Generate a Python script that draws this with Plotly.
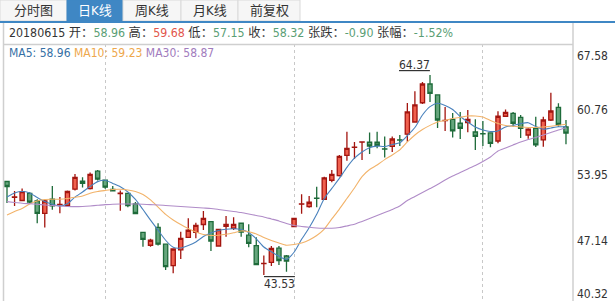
import plotly.graph_objects as go

# ---------------- data ----------------
opens = [53.27, 51.62, 51.29, 52.04, 51.24, 49.96, 51.42, 50.86, 50.77, 52.47,
         53.30, 52.54, 54.35, 53.40, 52.46, 52.02, 52.04, 50.93, 47.98, 46.63,
         48.50, 46.74, 44.50, 46.14, 47.46, 47.98, 48.79, 49.10, 46.55, 48.60,
         48.40, 48.92, 47.68, 46.60, 44.71, 44.85, 46.32, 45.51, 48.56, 50.91,
         50.65, 51.54, 51.42, 53.40, 53.88, 56.00, 56.82, 57.37, 57.36, 57.36,
         56.68, 56.94, 57.62, 58.20, 59.47, 61.48, 63.43, 62.29, 59.61, 59.75,
         59.34, 59.40, 58.43, 58.27, 58.33, 57.49, 60.07, 60.38, 59.96, 58.12,
         58.82, 57.60, 59.68, 61.00, 58.96]
highs = [53.30, 52.28, 52.54, 52.15, 51.42, 51.35, 52.80, 51.66, 52.34, 54.05,
         53.71, 54.21, 54.47, 53.43, 52.80, 52.34, 52.07, 51.14, 48.01, 47.31,
         48.92, 46.76, 46.28, 48.04, 49.44, 48.98, 50.20, 49.16, 48.32, 49.68,
         49.54, 48.95, 48.81, 47.46, 45.56, 46.55, 46.55, 45.62, 49.47, 51.94,
         51.76, 52.73, 53.77, 54.47, 56.03, 58.46, 57.39, 57.42, 58.38, 58.46,
         57.96, 57.96, 58.12, 61.45, 62.68, 63.64, 64.37, 62.34, 61.04, 60.41,
         60.52, 60.72, 59.75, 59.58, 58.38, 60.59, 60.78, 60.52, 60.20, 58.82,
         60.03, 60.03, 62.53, 61.42, 59.68]
lows = [51.03, 50.72, 51.24, 51.00, 48.92, 48.48, 50.32, 49.96, 50.62, 52.34,
        52.65, 52.44, 53.38, 52.52, 52.23, 50.23, 50.58, 49.89, 46.48, 46.48,
        46.60, 44.06, 43.71, 45.20, 47.44, 47.35, 48.22, 46.03, 46.50, 47.52,
        48.22, 47.52, 46.42, 44.57, 43.53, 44.47, 44.57, 43.87, 48.50, 49.92,
        50.54, 50.58, 51.35, 53.19, 53.80, 55.44, 55.62, 55.51, 56.14, 56.73,
        55.77, 56.35, 56.97, 57.42, 59.42, 61.35, 61.56, 58.85, 58.54, 57.86,
        57.70, 58.41, 56.56, 56.97, 56.84, 57.25, 60.05, 58.98, 57.81, 57.72,
        56.87, 56.90, 59.58, 58.98, 57.15]
closes = [52.75, 51.66, 52.21, 51.12, 49.96, 51.24, 50.74, 50.88, 52.23, 53.71,
          53.09, 54.02, 53.51, 52.68, 52.31, 52.05, 50.77, 49.94, 47.25, 47.15,
          46.74, 44.40, 46.24, 47.35, 48.19, 48.71, 49.44, 47.07, 48.27, 48.79,
          48.81, 48.01, 46.83, 44.62, 44.74, 46.29, 45.04, 44.99, 49.44, 50.94,
          51.11, 51.51, 53.64, 54.02, 55.90, 56.73, 56.85, 57.40, 56.97, 57.05,
          56.65, 57.70, 57.59, 60.52, 61.25, 63.43, 62.46, 59.68, 59.64, 58.54,
          58.82, 59.75, 57.98, 58.24, 57.25, 60.07, 60.48, 59.34, 58.82, 58.72,
          57.08, 59.68, 60.62, 59.21, 58.32]

ma5 = [51.66, 52.08, 52.23, 52.08, 51.61, 51.19, 50.90, 50.72, 50.95, 51.65,
       52.18, 52.76, 53.26, 53.40, 53.07, 52.73, 52.18, 51.40, 50.35, 49.25,
       48.20, 47.15, 46.42, 46.34, 46.60, 46.97, 47.54, 47.91, 48.17, 48.30,
       48.35, 48.27, 47.96, 47.30, 46.45, 45.95, 45.48, 45.15, 45.90, 47.25,
       48.45, 49.85, 51.50, 52.55, 53.60, 54.75, 55.70, 56.35, 56.80, 56.96,
       56.92, 57.13, 57.30, 58.05, 58.90, 60.20, 61.07, 61.42, 61.19, 60.78,
       60.05, 59.47, 58.95, 58.64, 58.48, 58.54, 58.95, 59.11, 59.30, 59.40,
       59.00, 58.72, 58.85, 58.98, 58.96]
ma10 = [49.78, 50.15, 50.46, 50.93, 51.24, 51.40, 51.42, 51.42, 51.50, 51.63,
        51.76, 52.04, 52.23, 52.34, 52.44, 52.46, 52.39, 52.23, 51.92, 51.35,
        50.60, 49.84, 49.26, 48.79, 48.38, 48.01, 47.75, 47.65, 47.67, 47.77,
        47.93, 48.12, 48.04, 47.80, 47.44, 47.13, 46.87, 46.63, 46.71, 46.87,
        47.18, 47.65, 48.32, 49.37, 50.40, 51.50, 52.60, 53.78, 54.52, 54.99,
        55.55, 56.04, 56.56, 57.39, 58.12, 58.69, 59.12, 59.47, 59.63, 59.84,
        59.96, 60.10, 60.10, 60.00, 59.63, 59.32, 59.11, 59.03, 58.95, 58.90,
        58.90, 58.95, 59.03, 59.13, 59.23]
ma30 = [51.17, 51.09, 51.00, 50.95, 50.90, 50.83, 50.77, 50.72, 50.67, 50.65,
        50.67, 50.72, 50.79, 50.86, 50.90, 50.93, 50.93, 50.93, 50.90, 50.86,
        50.83, 50.77, 50.72, 50.67, 50.62, 50.56, 50.51, 50.46, 50.36, 50.25,
        50.15, 50.04, 49.89, 49.73, 49.58, 49.37, 49.16, 48.90, 48.69, 48.59,
        48.50, 48.43, 48.40, 48.40, 48.48, 48.64, 48.81, 49.11, 49.42, 49.73,
        50.04, 50.36, 50.72, 51.29, 51.71, 52.13, 52.54, 52.96, 53.43, 53.85,
        54.21, 54.58, 54.94, 55.36, 55.83, 56.45, 56.76, 57.08, 57.39, 57.65,
        57.86, 58.12, 58.38, 58.64, 58.87]

month_start_idx = [13, 38, 63]
price_ticks = [67.58, 60.76, 53.95, 47.14, 40.32]
y_top, y_bottom = 67.60, 40.82

tabs = ["分时图", "日K线", "周K线", "月K线", "前复权"]
active_tab = 1

info_date = "20180615"
info_open, info_high, info_low, info_close = "58.96", "59.68", "57.15", "58.32"
info_chg, info_pct = "-0.90", "-1.52%"

high_idx = highs.index(max(highs))
low_idx = lows.index(min(lows))

# ---------------- style ----------------
FONT = "DejaVu Sans Condensed, Noto Sans, Noto Sans CJK SC, sans-serif"
TXT = "#333333"
GREEN_TXT = "#5a9e74"
RED_TXT = "#e2554a"
TAB_BLUE = "#3f87c4"
BORDER = "#cfcfcf"
UP_FILL, UP_LINE = "#f0604e", "#a3150f"
DN_FILL, DN_LINE = "#66a67d", "#1e6b3a"
MA_COLORS = ["#4a82bd", "#f2b36a", "#b08cc8"]
MA_TXT = ["#3670a5", "#eea74c", "#a17bbd"]

W, H = 615, 301
ML, MR, MT, MB = 3, 42, 44, 0
PW, PH = W - ML - MR, H - MT - MB


def pxx(x):
    return (x - ML) / PW


def pyy(y):
    return (H - MB - y) / PH


idx = list(range(len(opens)))

fig = go.Figure()
fig.add_trace(go.Candlestick(
    x=idx, open=opens, high=highs, low=lows, close=closes,
    increasing=dict(fillcolor=UP_FILL, line=dict(color=UP_LINE, width=1.3)),
    decreasing=dict(fillcolor=DN_FILL, line=dict(color=DN_LINE, width=1.3)),
    whiskerwidth=0, hoverinfo="skip", showlegend=False))

for vals, col in zip([ma5, ma10, ma30], MA_COLORS):
    fig.add_trace(go.Scatter(
        x=idx, y=vals, mode="lines", hoverinfo="skip", showlegend=False,
        line=dict(color=col, width=1.1, shape="spline", smoothing=0.6)))

shapes = []
# tabs
tab_edges = [0, 67, 123, 181, 238, 300]
annotations = []
for i, name in enumerate(tabs):
    x0, x1 = tab_edges[i], tab_edges[i + 1]
    active = (i == active_tab)
    shapes.append(dict(type="rect", xref="paper", yref="paper",
                       x0=pxx(x0), x1=pxx(x1), y0=pyy(21), y1=pyy(0),
                       fillcolor=TAB_BLUE if active else "#f6f6f6",
                       line=dict(color=TAB_BLUE if active else "#dadada", width=1),
                       layer="above"))
    annotations.append(dict(xref="paper", yref="paper", x=pxx((x0 + x1) / 2), y=pyy(10.5),
                            text=name, showarrow=False, xanchor="center", yanchor="middle",
                            font=dict(family=FONT, size=13, color="white" if active else TXT)))
# blue separator
shapes.append(dict(type="rect", xref="paper", yref="paper", x0=pxx(0), x1=pxx(W),
                   y0=pyy(23), y1=pyy(21), fillcolor=TAB_BLUE, line=dict(width=0), layer="above"))
# frame lines
for xl in (3.5, 573):
    shapes.append(dict(type="line", xref="paper", yref="paper", x0=pxx(xl), x1=pxx(xl),
                       y0=pyy(23), y1=pyy(H), line=dict(color=BORDER, width=1.5), layer="above"))
shapes.append(dict(type="line", xref="paper", yref="paper", x0=pxx(3), x1=pxx(573),
                   y0=pyy(44.5), y1=pyy(44.5), line=dict(color=BORDER, width=1.5), layer="above"))


def col(t, c):
    return f"<span style='color:{c}'>{t}</span>"


info_text = (f"{info_date} 开：{col(info_open, GREEN_TXT)} 高：{col(info_high, RED_TXT)} "
             f"低：{col(info_low, GREEN_TXT)} 收：{col(info_close, GREEN_TXT)} "
             f"张跌：{col(info_chg, GREEN_TXT)} 张幅：{col(info_pct, GREEN_TXT)}")
annotations.append(dict(xref="paper", yref="paper", x=pxx(8), y=pyy(33), text=info_text,
                        showarrow=False, xanchor="left", yanchor="middle", borderpad=0,
                        font=dict(family=FONT, size=12.3, color=TXT)))

ma_text = " ".join(col(f"{n}: {v[-1]:.2f}", c) for n, v, c in
                   zip(["MA5", "MA10", "MA30"], [ma5, ma10, ma30], MA_TXT))
annotations.append(dict(xref="paper", yref="paper", x=pxx(8), y=pyy(53.5), text=ma_text,
                        showarrow=False, xanchor="left", yanchor="middle", borderpad=0,
                        font=dict(family=FONT, size=12, color=TXT)))

# edge price labels (top and bottom of scale)
annotations.append(dict(xref="paper", yref="paper", x=1, y=pyy(56), text=f"{price_ticks[0]:.2f}",
                        showarrow=False, xanchor="left", yanchor="middle", xshift=3, borderpad=0,
                        font=dict(family=FONT, size=12, color=TXT)))
annotations.append(dict(xref="paper", yref="paper", x=1, y=pyy(294), text=f"{price_ticks[-1]:.2f}",
                        showarrow=False, xanchor="left", yanchor="middle", xshift=3, borderpad=0,
                        font=dict(family=FONT, size=12, color=TXT)))

# high / low markers
annotations.append(dict(xref="x", yref="y", x=high_idx, y=highs[high_idx],
                        text=f"{highs[high_idx]:.2f}", showarrow=False,
                        xanchor="right", yanchor="bottom", xshift=1, yshift=2, borderpad=0,
                        font=dict(family=FONT, size=12, color=TXT, lineposition="under")))
annotations.append(dict(xref="x", yref="y", x=low_idx, y=lows[low_idx],
                        text=f"{lows[low_idx]:.2f}", showarrow=False,
                        xanchor="left", yanchor="top", xshift=-1, yshift=-1, borderpad=0,
                        font=dict(family=FONT, size=12, color=TXT, lineposition="over")))

fig.update_layout(
    width=W, height=H, margin=dict(l=ML, r=MR, t=MT, b=MB),
    paper_bgcolor="white", plot_bgcolor="white", showlegend=False, boxgap=0.2,
    shapes=shapes, annotations=annotations,
    xaxis=dict(range=[-0.53, 74.93], rangeslider=dict(visible=False), showgrid=True,
               tickmode="array", tickvals=month_start_idx, griddash="dot", gridcolor="#c8c8c8",
               gridwidth=1, showticklabels=False, zeroline=False, showline=False, ticks="",
               fixedrange=True),
    yaxis=dict(range=[y_bottom, y_top], side="right", tickmode="array",
               tickvals=price_ticks[1:4], ticktext=[f"{v:.2f}" for v in price_ticks[1:4]],
               showgrid=False, zeroline=False, showline=False, ticks="",
               tickfont=dict(family=FONT, size=12, color=TXT), ticklabelstandoff=3,
               fixedrange=True),
)

fig.write_html("out.html")
